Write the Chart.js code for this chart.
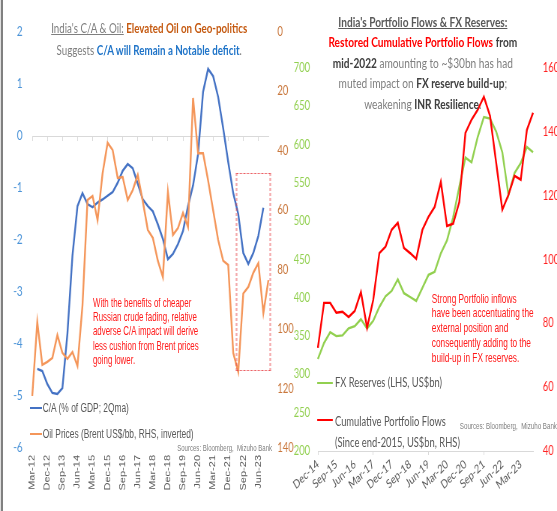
<!DOCTYPE html>
<html>
<head>
<meta charset="utf-8">
<script src="https://cdn.jsdelivr.net/npm/chart.js@4.4.0/dist/chart.umd.min.js"></script>
<style>
  body { margin: 0; background: #fff; }
  #page { position: relative; width: 557px; height: 511px; overflow: hidden; }
  /* the reference is squeezed horizontally, so everything is laid out wider and scaled back */
  #wrap { position: absolute; left: 0; top: 0; width: 743px; height: 511px; transform: scaleX(0.7497); transform-origin: 0 0; }
  canvas { position: absolute; top: 0; }
  .t { position: absolute; white-space: nowrap; }
  .cal { font-family: Lato, 'Open Sans', sans-serif; }
  /* Arial Narrow look-alike */
  .nar { font-family: 'Liberation Sans', Arial, sans-serif; transform-origin: 0 0; }
  .ul { text-decoration: underline; }
  .key { position: absolute; height: 2px; }
</style>
</head>
<body>
<div id="page">
<div id="wrap">
  <div style="position:absolute;left:1.3px;top:0;width:2.7px;height:511px;background:#808080"></div>

  <canvas id="caChart" width="400" height="511" style="left:0"></canvas>
  <canvas id="flowChart" width="363" height="511" style="left:380px"></canvas>

  <!-- left panel text -->
  <div class="t cal" style="left:0;width:398px;top:17px;text-align:center;font-size:13px;line-height:22px;color:#7f7f7f">
    <span class="ul">India's C/A &amp; Oil:</span> <b style="color:#C55A11">Elevated Oil on Geo-politics</b><br>
    Suggests <b style="color:#1F74C8">C/A will Remain a Notable deficit</b>.
  </div>
  <div style="position:absolute;left:314.8px;top:173px;width:46.7px;height:198px;border:1px dashed #E8474C;box-sizing:border-box"></div>
  <div class="t nar" style="left:124px;top:296px;font-size:13px;line-height:14.2px;color:#FF1A1A;transform:scaleX(0.81)">
    With the benefits of cheaper<br>Russian crude fading, relative<br>adverse C/A impact will derive<br>less cushion from Brent prices<br>going lower.
  </div>
  <div class="key" style="left:40px;top:407px;width:16px;background:#4472C4"></div>
  <div class="t nar" style="left:57px;top:400px;font-size:13px;line-height:16px;color:#595959;transform:scaleX(0.86)">C/A (% of GDP; 2Qma)</div>
  <div class="key" style="left:40px;top:433px;width:16px;background:#F4965A"></div>
  <div class="t nar" style="left:57px;top:426px;font-size:13px;line-height:16px;color:#595959;transform:scaleX(0.86)">Oil Prices (Brent US$/bb, RHS, inverted)</div>
  <div class="t nar" style="right:380px;top:442px;font-size:9.5px;line-height:12px;color:#808080;transform:scaleX(0.85);transform-origin:100% 0">Sources: Bloomberg,&nbsp; Mizuho Bank</div>

  <!-- right panel text -->
  <div class="t cal" style="left:384px;width:360px;top:11.75px;text-align:center;font-size:13.5px;line-height:20.5px;color:#7f7f7f">
    <b class="ul" style="color:#595959">India's Portfolio Flows &amp; FX Reserves:</b><br>
    <b style="color:#FF0000">Restored Cumulative Portfolio Flows</b> <b style="color:#404040">from</b><br>
    <b style="color:#404040">mid-2022</b> amounting to ~$30bn has had<br>
    muted impact on <b style="color:#404040">FX reserve build-up</b>;<br>
    weakening <b style="color:#404040">INR Resilience</b>.
  </div>
  <div class="t nar" style="left:576px;top:291.6px;font-size:13px;line-height:14.75px;color:#FF1A1A;transform:scaleX(0.85)">
    Strong Portfolio inflows<br>have been accentuating the<br>external position and<br>consequently adding to the<br>build-up in FX reserves.
  </div>
  <div class="key" style="left:422.8px;top:382px;width:21.4px;background:#92D050"></div>
  <div class="t cal" style="left:446.8px;top:374px;font-size:12.5px;line-height:18px;color:#595959">FX Reserves (LHS, US$bn)</div>
  <div class="key" style="left:422.8px;top:419px;width:21.4px;background:#FF0000"></div>
  <div class="t cal" style="left:446.8px;top:411px;font-size:12.5px;line-height:21px;color:#595959">Cumulative Portfolio Flows<br>(Since end-2015, US$bn, RHS)</div>
  <div class="t nar" style="right:0;top:420px;font-size:9.5px;line-height:12px;color:#808080;transform:scaleX(0.87);transform-origin:100% 0">Sources: Bloomberg,&nbsp; Mizuho Bank</div>
</div>
</div>

<script>
// ---- India's C/A & Oil (quarterly) ----
const caQuarters = ['Mar-12','Jun-12','Sep-12','Dec-12','Mar-13','Jun-13','Sep-13','Dec-13',
  'Mar-14','Jun-14','Sep-14','Dec-14','Mar-15','Jun-15','Sep-15','Dec-15',
  'Mar-16','Jun-16','Sep-16','Dec-16','Mar-17','Jun-17','Sep-17','Dec-17',
  'Mar-18','Jun-18','Sep-18','Dec-18','Mar-19','Jun-19','Sep-19','Dec-19',
  'Mar-20','Jun-20','Sep-20','Dec-20','Mar-21','Jun-21','Sep-21','Dec-21',
  'Mar-22','Jun-22','Sep-22','Dec-22','Mar-23','Jun-23','Sep-23','Dec-23'];

// C/A, % of GDP, 2Q moving average
const caBalance = [null, -4.48, -4.52, -4.77, -4.94, -4.96, -4.85, -3.8,
  -2.3, -1.35, -1.1, -1.31, -1.37, -1.28, -1.22, -1.15,
  -1.08, -0.9, -0.67, -0.54, -0.62, -0.92, -1.22, -1.35,
  -1.45, -1.7, -1.98, -2.37, -2.27, -2.08, -1.83, -1.35,
  -0.95, -0.35, 0.85, 1.29, 1.15, 0.75, 0.15, -0.5,
  -1.1, -1.5, -2.25, -2.46, -2.25, -1.92, -1.38, null];

// Brent, US$/bbl (plotted on an inverted right axis)
const brentOil = [122.5, 97.6, 112, 111, 109.7, 102, 108, 110,
  107.7, 112.4, 92, 56.5, 55.2, 63.3, 47.5, 37.3,
  39.7, 49.1, 48.8, 56.5, 53.2, 48.1, 57, 66.6,
  69.3, 77, 82.5, 53.8, 68.3, 66, 60.9, 65.6,
  22.2, 40.8, 40.8, 50, 60, 70, 77, 78.4,
  108, 114.4, 88, 85.8, 81, 77.8, 94.6, 83.5];

// ---- Portfolio flows & FX reserves (quarterly) ----
const flowQuarters = ['Dec-14','Mar-15','Jun-15','Sep-15','Dec-15','Mar-16','Jun-16','Sep-16',
  'Dec-16','Mar-17','Jun-17','Sep-17','Dec-17','Mar-18','Jun-18','Sep-18',
  'Dec-18','Mar-19','Jun-19','Sep-19','Dec-19','Mar-20','Jun-20','Sep-20',
  'Dec-20','Mar-21','Jun-21','Sep-21','Dec-21','Mar-22','Jun-22','Sep-22',
  'Dec-22','Mar-23','Jun-23','Sep-23'];

// FX reserves, US$bn (LHS)
const fxReserves = [320, 341, 355, 350, 351, 360, 363, 372,
  360, 370, 388, 402, 409, 424, 406, 401,
  396, 413, 430, 434, 458, 475, 505, 545,
  583, 577, 610, 636, 634, 617, 590, 534,
  563, 576, 597, 590];

// cumulative portfolio flows since end-2015, US$bn (RHS)
const portfolioFlows = [72.3, 86.4, 86.4, 83.3, 83.6, 82, 83.9, 89.8,
  78.6, 87.3, 102, 104, 109.3, 111.5, 103.6, 102,
  100.2, 109.3, 113.4, 116.5, 124.3, 110.5, 111.2, 118,
  139.7, 143.8, 146.9, 151, 145, 130.3, 115.6, 120.3,
  126.2, 125, 140.6, 146];

const CAL = "Lato, 'Open Sans', sans-serif";
const ARIAL = "'Liberation Sans', Arial, sans-serif";
const axisGrey = '#D9D9D9';
const everyThird = ctx => (ctx.index % 3 === 0 ? axisGrey : 'rgba(0,0,0,0)');

new Chart(document.getElementById('caChart'), {
  type: 'line',
  data: {
    labels: caQuarters,
    datasets: [
      { label: 'Oil Prices (Brent US$/bb, RHS, inverted)', data: brentOil, borderColor: '#F4965A',
        borderWidth: 2.4, pointRadius: 0, tension: 0, yAxisID: 'y2', xAxisID: 'x' },
      { label: 'C/A (% of GDP; 2Qma)', data: caBalance, borderColor: '#4472C4',
        borderWidth: 2.4, pointRadius: 0, tension: 0, yAxisID: 'y', xAxisID: 'x' }
    ]
  },
  options: {
    responsive: false,
    animation: false,
    layout: { padding: { top: 32 } },
    plugins: { legend: { display: false }, tooltip: { enabled: false } },
    scales: {
      x: {
        position: 'bottom',
        grid: { display: false, drawTicks: false },
        border: { display: false },
        ticks: {
          autoSkip: false, minRotation: 90, maxRotation: 90, padding: 7,
          color: '#595959', font: { family: ARIAL, size: 11 },
          callback: function (v, i) { return i % 3 === 0 ? this.getLabelForValue(v) : null; }
        },
        afterFit: s => { s.height = 63; }
      },
      // zero line with tick marks, like the Excel category axis crossing at 0
      x0: {
        type: 'category',
        position: { y: 0 },
        grid: { drawOnChartArea: false, drawTicks: true, tickLength: 4, color: everyThird },
        border: { display: true, color: axisGrey },
        ticks: { display: false }
      },
      y: {
        position: 'left', min: -6, max: 2,
        grid: { display: false, drawTicks: false },
        border: { display: false },
        ticks: { stepSize: 1, padding: 13, color: '#4C94D8', font: { family: CAL, size: 13 } },
        afterFit: s => { s.width = 43; }
      },
      y2: {
        position: 'right', min: 0, max: 140, reverse: true,
        grid: { display: false, drawTicks: false },
        border: { display: false },
        ticks: { stepSize: 20, padding: 12, color: '#C9773C', font: { family: CAL, size: 12.5 } },
        afterFit: s => { s.width = 42; }
      }
    }
  }
});

new Chart(document.getElementById('flowChart'), {
  type: 'line',
  data: {
    labels: flowQuarters,
    datasets: [
      { label: 'Cumulative Portfolio Flows (Since end-2015, US$bn, RHS)', data: portfolioFlows,
        borderColor: '#FF0000', borderWidth: 2.4, pointRadius: 0, tension: 0, yAxisID: 'y2' },
      { label: 'FX Reserves (LHS, US$bn)', data: fxReserves, borderColor: '#92D050',
        borderWidth: 2.4, pointRadius: 0, tension: 0, yAxisID: 'y' }
    ]
  },
  options: {
    responsive: false,
    animation: false,
    layout: { padding: { top: 68 } },
    plugins: { legend: { display: false }, tooltip: { enabled: false } },
    scales: {
      x: {
        grid: { drawOnChartArea: false, drawTicks: true, tickLength: 4, color: everyThird },
        border: { display: true, color: axisGrey },
        ticks: {
          autoSkip: false, minRotation: 37, maxRotation: 37, padding: 2,
          color: '#595959', font: { family: CAL, size: 12 },
          callback: function (v, i) { return i % 3 === 0 ? this.getLabelForValue(v) : null; }
        },
        afterFit: s => { s.height = 60; }
      },
      y: {
        position: 'left', min: 200, max: 700,
        grid: { display: false, drawTicks: false },
        border: { display: false },
        ticks: { stepSize: 50, padding: 10.5, color: '#92D050', font: { family: CAL, size: 12.5 } },
        afterFit: s => { s.width = 44; }
      },
      y2: {
        position: 'right', min: 40, max: 160,
        grid: { display: false, drawTicks: false },
        border: { display: false },
        ticks: { stepSize: 20, padding: 13, color: '#FF2020', font: { family: CAL, size: 12.5 } },
        afterFit: s => { s.width = 32; }
      }
    }
  }
});
</script>
</body>
</html>
